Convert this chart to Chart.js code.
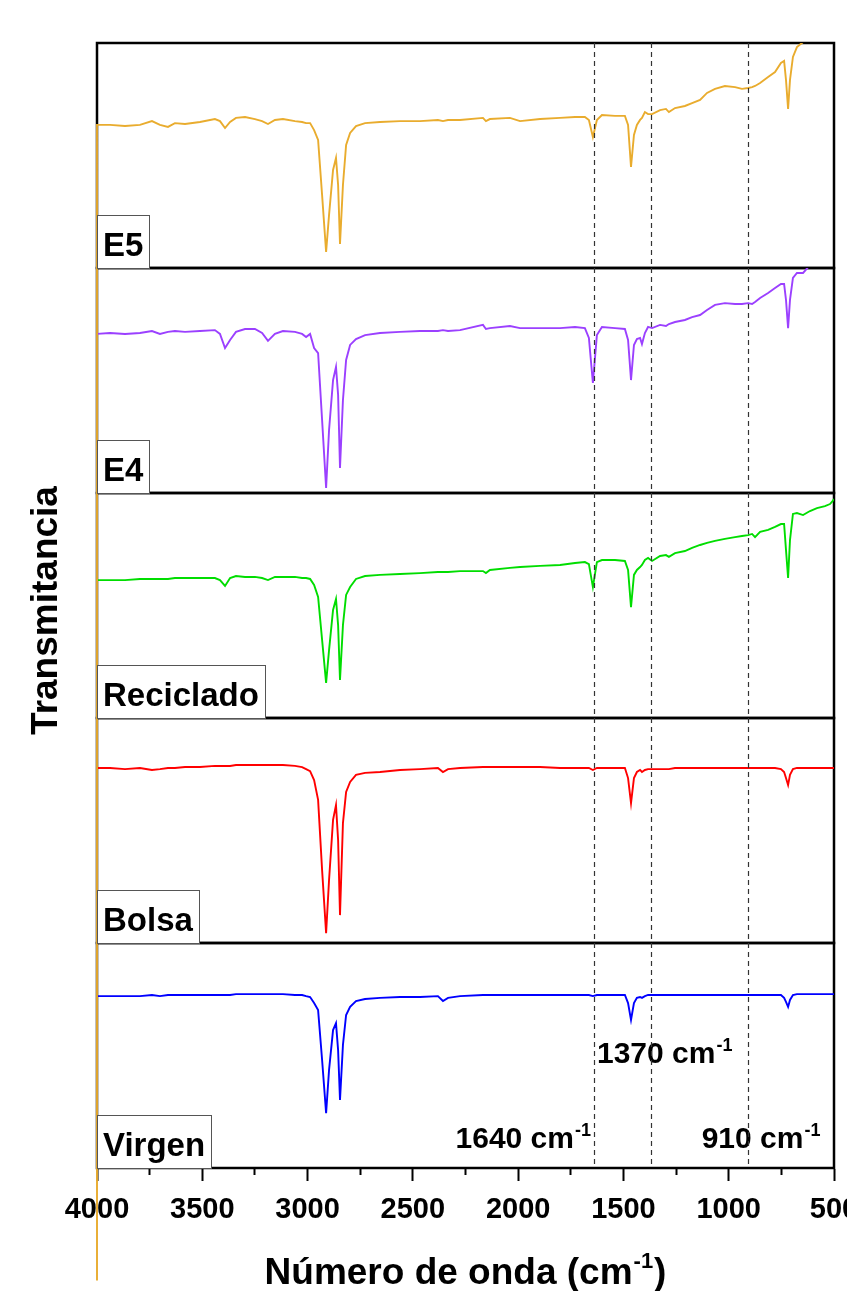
<!DOCTYPE html>
<html>
<head>
<meta charset="utf-8">
<script src="https://cdn.jsdelivr.net/npm/chart.js@4.4.1/dist/chart.umd.min.js"></script>
<style>
html,body{margin:0;padding:0;background:#fff;}
#wrap{width:847px;height:1291px;position:relative;}
canvas{display:block;}
</style>
</head>
<body>
<div id="wrap"><canvas id="c" width="847" height="1291"></canvas></div>
<script>
// ---------- data (wavenumber in cm-1, transmittance in arbitrary % units per panel) ----------
const wavenumbers = [
  4000,3938,3867,3796,3739,3701,3663,3630,3582,3511,
  3440,3416,3392,3368,3340,3297,3250,3216,3188,3155,
  3117,3060,3026,3007,2988,2969,2950,2931,2912,2898,
  2879,2865,2855,2846,2832,2817,2798,2770,2727,2656,
  2561,2466,2381,2357,2333,2276,2167,2153,2134,2039,
  1991,1896,1801,1730,1683,1664,1645,1626,1602,1540,
  1493,1478,1464,1450,1436,1421,1412,1398,1383,1364,
  1326,1298,1284,1255,1208,1174,1136,1103,1065,1018,
  970,937,908,889,875,851,813,780,752,737,
  728,718,709,695,676,647,614,581,543,519,
  510,500
];
const e5 = [
  63.6,63.6,63.1,63.6,65.3,63.6,62.7,64.4,64.0,64.9,
  66.2,65.3,62.2,64.9,66.7,67.1,66.2,65.3,64.0,65.8,
  66.2,65.3,64.9,64.4,64.4,61.3,56.9,32.4,7.1,23.6,
  43.6,48.9,36.9,10.7,36.9,54.7,60.0,63.1,64.4,64.9,
  65.3,65.3,65.8,65.3,65.8,65.8,66.7,65.3,66.2,66.7,
  65.3,66.2,66.7,67.1,67.1,65.8,58.2,65.8,68.0,67.6,
  67.6,63.6,44.9,59.1,63.6,65.8,66.7,69.3,68.4,68.4,
  70.2,70.7,69.3,71.1,72.0,73.3,74.7,77.8,79.6,80.9,
  80.4,79.6,80.0,80.4,80.9,82.2,84.9,87.1,91.1,92.0,
  83.6,70.7,83.6,93.8,98.2,100.4,103.6,106.7,109.3,111.1,
  112.0,112.9
];
const e5LeadIn = -450; // the E5 trace starts far below at 4000 cm-1
const e4 = [
  70.7,71.1,70.7,71.1,72.0,70.7,71.6,72.0,71.6,72.0,
  72.4,70.7,64.4,68.0,71.6,72.9,72.9,71.1,67.6,70.7,
  72.0,71.6,70.7,69.3,70.7,64.4,62.2,32.4,2.2,28.0,
  50.2,56.0,43.6,11.1,41.3,59.1,65.8,68.4,70.2,71.1,
  71.6,72.0,72.0,72.4,72.0,72.4,74.7,72.9,73.3,74.2,
  73.3,73.3,73.3,73.8,73.3,68.9,48.9,70.2,73.8,73.3,
  72.9,68.0,50.2,65.8,68.4,68.9,66.2,71.1,73.8,73.3,
  74.7,74.2,75.1,76.0,76.9,78.2,79.1,81.3,83.6,84.4,
  84.0,84.0,84.4,84.0,84.9,86.7,88.9,91.1,92.9,92.9,
  85.8,73.3,85.8,95.6,97.8,97.8,101.3,107.1,108.9,109.3,
  111.1,116.9
];
const reciclado = [
  61.3,61.3,61.3,61.8,61.8,61.8,61.8,62.2,62.2,62.2,
  62.2,61.3,58.7,62.2,63.1,62.7,62.7,62.2,61.3,62.7,
  62.7,62.7,62.2,62.2,61.8,59.1,53.8,34.7,15.6,30.2,
  48.0,52.9,41.3,16.9,41.3,54.7,58.2,61.8,63.1,63.6,
  64.0,64.4,64.9,64.9,64.9,65.3,65.3,64.4,65.8,66.7,
  67.1,67.6,68.0,68.9,69.3,68.4,58.2,69.3,70.2,70.2,
  69.8,65.8,49.3,63.6,65.8,67.1,68.0,70.2,71.1,69.8,
  72.0,72.4,71.6,73.3,74.2,75.6,76.9,77.8,78.7,79.6,
  80.4,80.9,81.3,81.8,80.4,82.7,83.6,84.9,86.2,86.2,
  74.7,62.2,79.1,90.7,91.1,90.2,92.0,93.3,94.2,95.1,
  96.0,97.3
];
const bolsa = [
  77.8,77.8,77.3,77.8,76.9,77.3,77.8,77.8,78.2,78.2,
  78.7,78.7,78.7,78.7,79.1,79.1,79.1,79.1,79.1,79.1,
  79.1,78.7,78.2,77.3,76.4,72.4,63.6,32.4,4.4,28.0,
  54.7,61.3,45.8,12.4,53.3,67.1,71.6,74.7,75.6,76.0,
  76.9,77.3,77.8,76.0,77.3,77.8,78.2,78.2,78.2,78.2,
  78.2,78.2,77.8,77.8,77.8,77.8,76.9,77.8,77.8,77.8,
  77.8,73.3,62.2,73.3,76.0,76.9,76.0,76.9,77.3,77.3,
  77.3,77.3,77.3,77.8,77.8,77.8,77.8,77.8,77.8,77.8,
  77.8,77.8,77.8,77.8,77.8,77.8,77.8,77.8,77.3,76.0,
  73.3,70.2,74.7,77.3,77.8,77.8,77.8,77.8,77.8,77.8,
  77.8,77.8
];
const virgen = [
  76.4,76.4,76.4,76.4,76.9,76.4,76.9,76.9,76.9,76.9,
  76.9,76.9,76.9,76.9,77.3,77.3,77.3,77.3,77.3,77.3,
  77.3,76.9,76.9,76.4,76.0,73.3,70.2,48.0,24.4,43.6,
  61.3,64.4,52.4,30.2,54.7,68.0,71.6,74.2,75.1,75.6,
  76.0,76.0,76.4,74.2,75.6,76.4,76.9,76.9,76.9,76.9,
  76.9,76.9,76.9,76.9,76.9,76.9,76.4,76.9,76.9,76.9,
  76.9,73.3,65.8,73.3,75.6,76.0,75.6,76.4,76.9,76.9,
  76.9,76.9,76.9,76.9,76.9,76.9,76.9,76.9,76.9,76.9,
  76.9,76.9,76.9,76.9,76.9,76.9,76.9,76.9,76.9,75.6,
  73.8,71.6,74.7,76.9,77.3,77.3,77.3,77.3,77.3,77.3,
  77.3,77.3
];
const seriesNames = ['E5', 'E4', 'Reciclado', 'Bolsa', 'Virgen'];
const seriesValues = [e5, e4, reciclado, bolsa, virgen];
const seriesColors = ['#E9AC2E', '#9B40FF', '#00DD00', '#FF0000', '#0000FF'];
const xTickLabels = [4000, 3500, 3000, 2500, 2000, 1500, 1000, 500];
const markerBands = [1640, 1370, 910];
const xTitle = 'Número de onda (cm';
const yTitle = 'Transmitancia';

// ---------- chart ----------
const FONT = "'Liberation Sans', Arial, Helvetica, sans-serif";
const panelIds = ['yE5', 'yE4', 'yReciclado', 'yBolsa', 'yVirgen'];

const datasets = seriesNames.map((name, k) => {
  const pts = wavenumbers.map((w, i) => ({x: w, y: seriesValues[k][i]}));
  if (name === 'E5') pts.unshift({x: wavenumbers[0], y: e5LeadIn});
  return {
    label: name,
    data: pts,
    yAxisID: panelIds[k],
    borderColor: seriesColors[k],
    borderWidth: 1.9,
    pointRadius: 0,
    tension: 0,
    fill: false,
    clip: {left: false, top: 0, right: 0, bottom: false}
  };
});

const scales = {
  x: {
    type: 'linear', position: 'bottom', min: 500, max: 4000, reverse: true,
    ticks: {
      stepSize: 250, autoSkip: false, maxRotation: 0, minRotation: 0, padding: 12,
      color: '#000', font: {family: FONT, weight: 'bold', size: 29},
      callback: v => (xTickLabels.includes(v) ? String(v) : '')
    },
    grid: {
      drawOnChartArea: false, drawTicks: true, tickLength: 13,
      tickColor: '#000', tickWidth: 2,
      tickBorderDash: c => (c.tick && xTickLabels.includes(c.tick.value)) ? [] : [6, 40]
    },
    border: {display: true, color: '#000', width: 2},
    afterFit: s => { s.height = 123; s.paddingLeft = 0; s.paddingRight = 0; }
  }
};
// bottom-most panel defined first (left stacked axes are placed in reverse order)
for (let k = panelIds.length - 1; k >= 0; k--) {
  scales[panelIds[k]] = {
    type: 'linear', position: 'left', stack: 'paneles', stackWeight: 1,
    min: 0, max: 100,
    ticks: {display: false}, grid: {display: false}, border: {display: false},
    afterFit: s => { s.width = 0; }
  };
}

function drawSup(ctx, main, sup, x, y, align, size, supSize, raise) {
  ctx.font = `bold ${size}px ${FONT}`;
  const mw = ctx.measureText(main).width;
  ctx.font = `bold ${supSize}px ${FONT}`;
  const sw = ctx.measureText(sup).width;
  const x0 = align === 'right' ? x - mw - sw - 1 : x;
  ctx.textAlign = 'left';
  ctx.textBaseline = 'alphabetic';
  ctx.fillStyle = '#000';
  ctx.font = `bold ${size}px ${FONT}`;
  ctx.fillText(main, x0, y);
  ctx.font = `bold ${supSize}px ${FONT}`;
  ctx.fillText(sup, x0 + mw + 1, y - raise);
}

const decor = {
  id: 'decor',
  beforeDatasetsDraw(chart) {
    const {ctx, chartArea: a} = chart;
    ctx.save();
    ctx.strokeStyle = '#000';
    ctx.lineWidth = 2.5;
    panelIds.forEach(id => {
      const s = chart.scales[id];
      ctx.strokeRect(a.left, s.top, a.right - a.left, s.bottom - s.top);
    });
    ctx.restore();
  },
  afterDatasetsDraw(chart) {
    const {ctx, chartArea: a} = chart;
    const xs = chart.scales.x;
    ctx.save();
    // panel label boxes
    panelIds.forEach((id, k) => {
      const s = chart.scales[id];
      ctx.font = `bold 33px ${FONT}`;
      const w = Math.round(ctx.measureText(seriesNames[k]).width + 12);
      const h = 53;
      ctx.fillStyle = '#fff';
      ctx.fillRect(a.left, s.bottom - h, w, h);
      ctx.strokeStyle = '#555';
      ctx.lineWidth = 1;
      ctx.strokeRect(a.left + 0.5, s.bottom - h + 0.5, w, h);
      ctx.fillStyle = '#000';
      ctx.textAlign = 'left';
      ctx.textBaseline = 'alphabetic';
      ctx.fillText(seriesNames[k], a.left + 6, s.bottom - 12);
    });
    // band annotations
    const bottom = chart.scales.yVirgen.bottom;
    const p1640 = xs.getPixelForValue(markerBands[0]);
    const p910 = xs.getPixelForValue(markerBands[2]);
    drawSup(ctx, markerBands[0] + ' cm', '-1', p1640 - 3, bottom - 20, 'right', 30, 18, 12);
    drawSup(ctx, markerBands[1] + ' cm', '-1', p1640 + 3, bottom - 105, 'left', 30, 18, 12);
    drawSup(ctx, markerBands[2] + ' cm', '-1', p910 - 46, bottom - 20, 'left', 30, 18, 12);
    // dashed marker lines
    ctx.strokeStyle = '#333';
    ctx.lineWidth = 1.2;
    ctx.setLineDash([5, 4]);
    markerBands.forEach(v => {
      const px = Math.round(xs.getPixelForValue(v)) + 0.5;
      ctx.beginPath();
      ctx.moveTo(px, a.top);
      ctx.lineTo(px, a.bottom);
      ctx.stroke();
    });
    ctx.setLineDash([]);
    // axis titles
    ctx.font = `bold 37px ${FONT}`;
    const mw = ctx.measureText(xTitle).width;
    ctx.font = `bold 22px ${FONT}`;
    const sw = ctx.measureText('-1').width;
    ctx.font = `bold 37px ${FONT}`;
    const cw = ctx.measureText(')').width;
    const total = mw + sw + cw + 2;
    const cx = (a.left + a.right) / 2;
    const x0 = cx - total / 2;
    ctx.fillStyle = '#000';
    ctx.textAlign = 'left';
    ctx.textBaseline = 'alphabetic';
    ctx.fillText(xTitle, x0, 1284);
    ctx.font = `bold 22px ${FONT}`;
    ctx.fillText('-1', x0 + mw + 1, 1284 - 16);
    ctx.font = `bold 37px ${FONT}`;
    ctx.fillText(')', x0 + mw + sw + 2, 1284);

    ctx.translate(57, (a.top + a.bottom) / 2 + 5);
    ctx.rotate(-Math.PI / 2);
    ctx.textAlign = 'center';
    ctx.fillText(yTitle, 0, 0);
    ctx.restore();
  }
};

new Chart(document.getElementById('c'), {
  type: 'line',
  data: {datasets},
  options: {
    responsive: false,
    animation: false,
    devicePixelRatio: 1,
    layout: {padding: {left: 97, top: 43, right: 13, bottom: 0}},
    plugins: {legend: {display: false}, tooltip: {enabled: false}},
    scales
  },
  plugins: [decor]
});
</script>
</body>
</html>
